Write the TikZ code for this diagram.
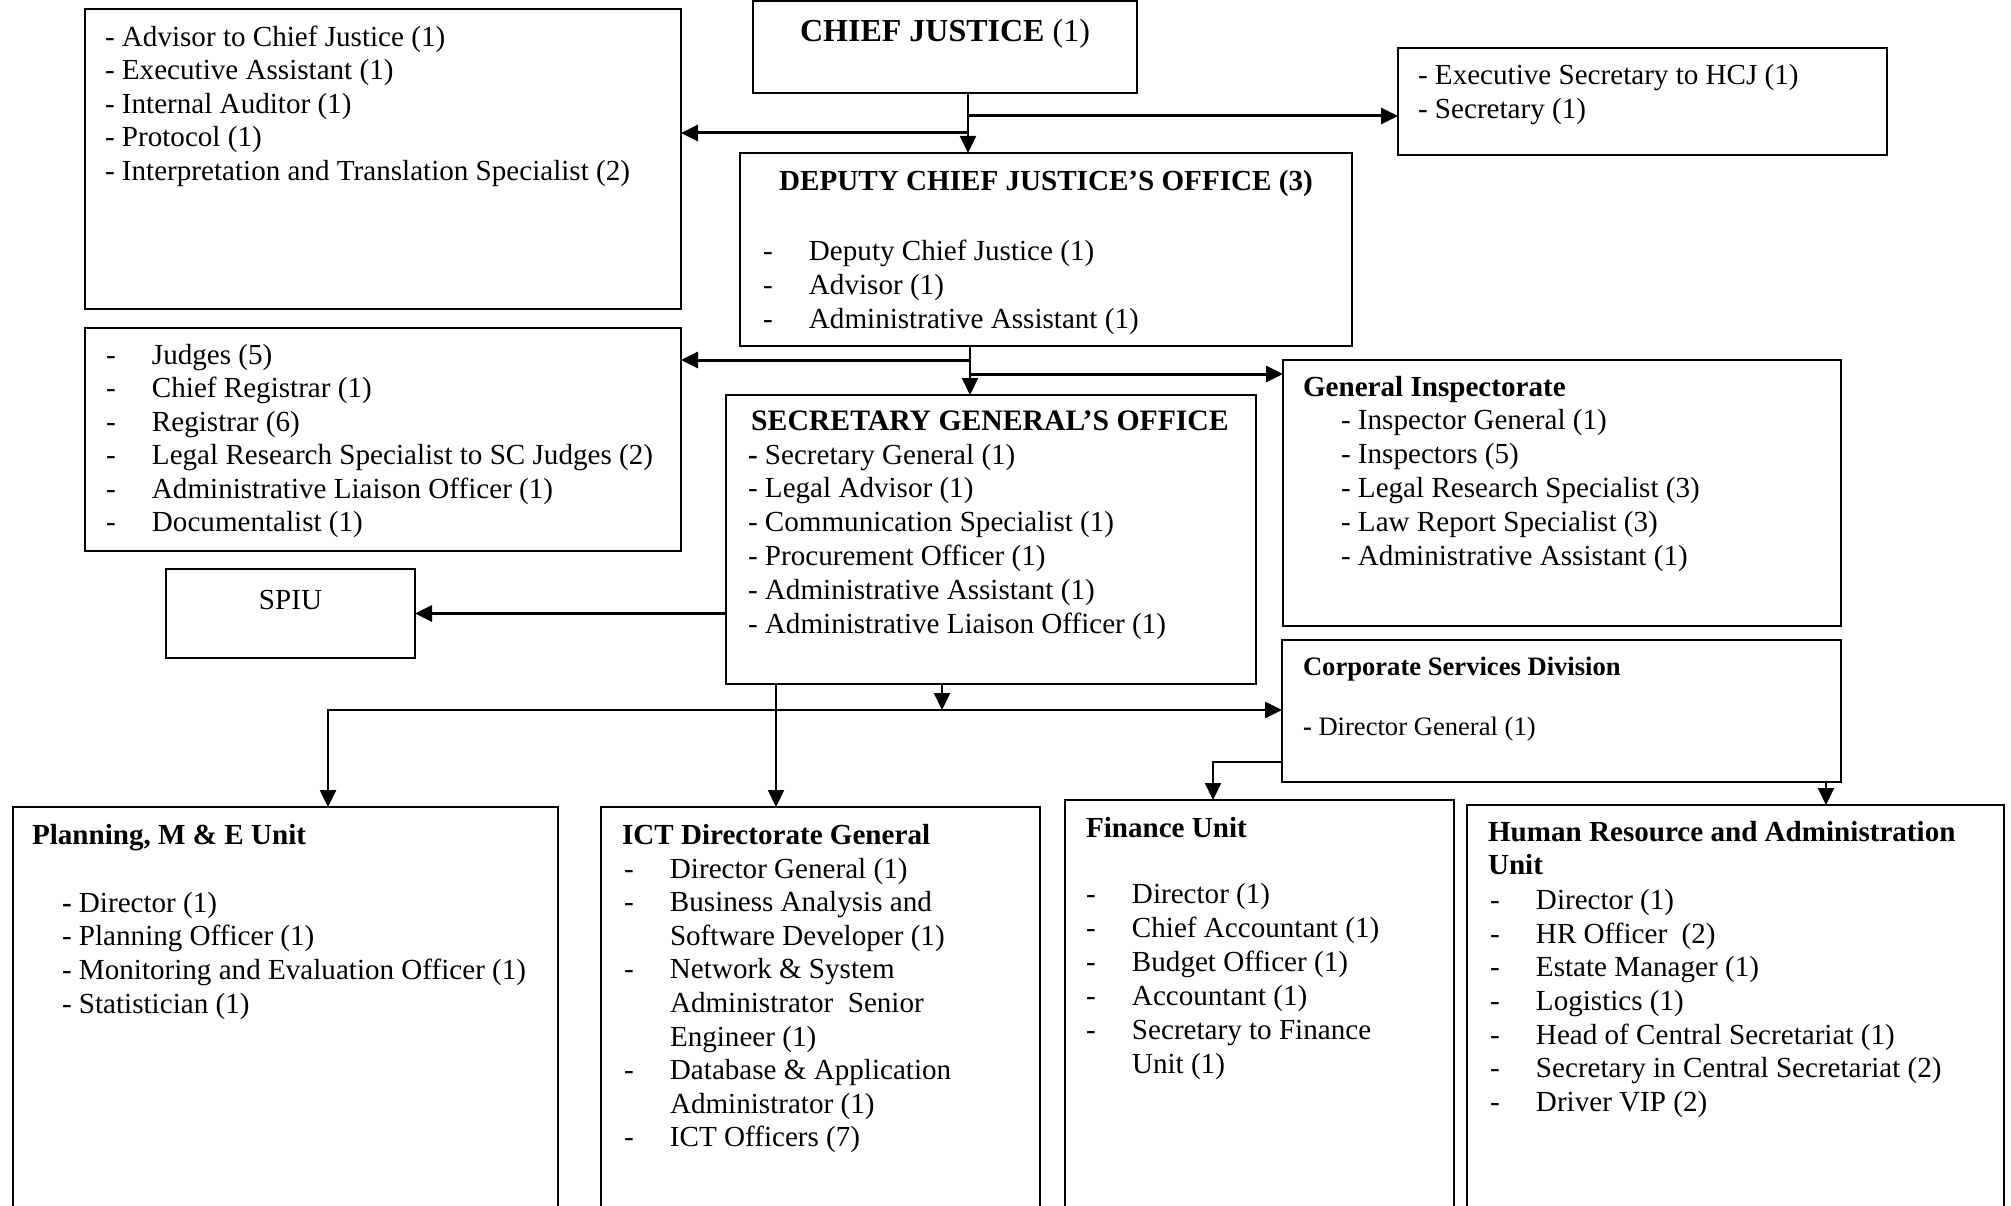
\documentclass[tikz,border=0pt]{standalone}
\usepackage{fontspec}
\setmainfont{Liberation Serif}
\usetikzlibrary{arrows.meta}
\newcommand\lns[2]{\fontsize{29.1}{#1}\selectfont\begin{tabular}[t]{@{}l@{}}#2\end{tabular}}
\newcommand\di[1]{\makebox[46pt][l]{-}#1}
\newcommand\ci[1]{\hspace*{46pt}#1}
\newcommand\bd{\textbf{-}}
\begin{document}
\begin{tikzpicture}[x=1pt,y=-1pt,
  box/.style={draw,line width=2pt,inner sep=0pt,outer sep=0pt,anchor=north west},
  tipv/.tip={Triangle[length=17pt,width=16pt]},
  vconn/.style={line width=2.2pt,-tipv},
  hconn/.style={line width=3pt,-tipv},
  conn2/.style={line width=2.6pt,tipv-tipv},
  txt/.style={anchor=base west,inner sep=0pt,outer sep=0pt},
  ttl/.style={anchor=base west,inner sep=0pt,outer sep=0pt,font=\fontsize{29.1}{33.6}\selectfont\bfseries},
  ctr/.style={anchor=base,inner sep=0pt,outer sep=0pt,font=\fontsize{29.1}{33.6}\selectfont}]
\useasboundingbox (0,0) rectangle (2011,1206);
\clip (0,0) rectangle (2011,1206);

% boxes
\node[box,minimum width=596pt,minimum height=300pt] (boxA) at (85,9) {};
\node[box,minimum width=384pt,minimum height=92pt] (cj) at (753,1) {};
\node[box,minimum width=489pt,minimum height=107pt] (exec) at (1398,48) {};
\node[box,minimum width=612pt,minimum height=193pt] (dcj) at (740,153) {};
\node[box,minimum width=596pt,minimum height=223pt] (boxB) at (85,328) {};
\node[box,minimum width=530pt,minimum height=289pt] (sg) at (726,395) {};
\node[box,minimum width=558pt,minimum height=266pt] (gi) at (1283,360) {};
\node[box,minimum width=249pt,minimum height=89pt] (spiu) at (166,569) {};
\node[box,minimum width=559pt,minimum height=142pt] (csd) at (1282,640) {};
\node[box,minimum width=545pt,minimum height=430pt] (plan) at (13,807) {};
\node[box,minimum width=439pt,minimum height=430pt] (ict) at (601,807) {};
\node[box,minimum width=389pt,minimum height=430pt] (fin) at (1065,800) {};
\node[box,minimum width=537pt,minimum height=430pt] (hr) at (1467,805) {};

% connectors
\coordinate (v1) at (968,0);
\coordinate (v2) at (970,0);
\coordinate (j1) at (968,116);
\coordinate (j2) at (968,133);
\coordinate (j3) at (970,360);
\coordinate (j4) at (970,374);
\coordinate (v3) at (942,0);
\coordinate (v4) at (776,0);
\coordinate (b1) at (328,710);
\coordinate (k1) at (1213,762);
\coordinate (v5) at (1826,0);

\draw[vconn] (cj.south -| v1) -- (dcj.north -| v1);
\draw[hconn] (j1) -- (j1 -| exec.west);
\draw[hconn] (j2) -- (j2 -| boxA.east);
\draw[vconn] (dcj.south -| v2) -- (sg.north -| v2);
\draw[hconn] (j3) -- (j3 -| boxB.east);
\draw[hconn] (j4) -- (j4 -| gi.west);
\draw[hconn] (sg.west |- spiu.east) -- (spiu.east);
\draw[vconn] (sg.south -| v3) -- (v3 |- b1);
\draw[conn2] (plan.north -| b1) -- (b1) -- (b1 -| csd.west);
\draw[vconn] (sg.south -| v4) -- (ict.north -| v4);
\draw[vconn] (csd.west |- k1) -- (k1) -- (k1 |- fin.north);
\draw[vconn] (csd.south -| v5) -- (hr.north -| v5);

% texts
\node[txt] (tA) at (105,46.4) {\lns{33.5}{- Advisor to Chief Justice (1)\\ - Executive Assistant (1)\\ - Internal Auditor (1)\\ - Protocol (1)\\ - Interpretation and Translation Specialist (2)}};
\node[ctr,font=\fontsize{32}{36}\selectfont] (tcj) at (945,42) {\textbf{CHIEF JUSTICE} (1)};
\node[txt] (tE) at (1418,85) {\lns{34}{- Executive Secretary to HCJ (1)\\ - Secretary (1)}};
\node[ctr,font=\fontsize{29.1}{33.6}\selectfont\bfseries] (tD) at (1046,191) {DEPUTY CHIEF JUSTICE’S OFFICE (3)};
\node[txt] (tD2) at (763,261) {\lns{34}{\di{Deputy Chief Justice (1)}\\ \di{Advisor (1)}\\ \di{Administrative Assistant (1)}}};
\node[txt] (tB) at (106,364) {\lns{33.6}{\di{Judges (5)}\\ \di{Chief Registrar (1)}\\ \di{Registrar (6)}\\ \di{Legal Research Specialist to SC Judges (2)}\\ \di{Administrative Liaison Officer (1)}\\ \di{Documentalist (1)}}};
\node[ctr,font=\fontsize{29.7}{33.6}\selectfont\bfseries] (tS) at (990,430) {SECRETARY GENERAL’S OFFICE};
\node[txt] (tS2) at (748,464) {\lns{33.8}{\bd\ Secretary General (1)\\ - Legal Advisor (1)\\ - Communication Specialist (1)\\ - Procurement Officer (1)\\ - Administrative Assistant (1)\\ - Administrative Liaison Officer (1)}};
\node[ttl] (tG) at (1303,396.5) {General Inspectorate};
\node[txt] (tG2) at (1341,429) {\lns{34}{- Inspector General (1)\\ - Inspectors (5)\\ - Legal Research Specialist (3)\\ - Law Report Specialist (3)\\ - Administrative Assistant (1)}};
\node[ctr] (tP) at (290.5,609) {SPIU};
\node[ttl,font=\fontsize{26.6}{30}\selectfont\bfseries] (tC) at (1303,675) {Corporate Services Division};
\node[txt,font=\fontsize{26.6}{30}\selectfont] (tC2) at (1303,735.4) {\bd\ Director General (1)};
\node[ttl] (tPl) at (32,844) {Planning, M \& E Unit};
\node[txt] (tPl2) at (62,912) {\lns{33.8}{\bd\ Director (1)\\ - Planning Officer (1)\\ - Monitoring and Evaluation Officer (1)\\ - Statistician (1)}};
\node[ttl] (tI) at (622,844) {ICT Directorate General};
\node[txt] (tI2) at (624,878) {\lns{33.6}{\di{Director General (1)}\\ \di{Business Analysis and}\\ \ci{Software Developer (1)}\\ \di{Network \& System}\\ \ci{Administrator\ \ Senior}\\ \ci{Engineer (1)}\\ \di{Database \& Application}\\ \ci{Administrator (1)}\\ \di{ICT Officers (7)}}};
\node[ttl] (tF) at (1086,837.4) {Finance Unit};
\node[txt] (tF2) at (1086,903) {\lns{34}{\di{Director (1)}\\ \di{Chief Accountant (1)}\\ \di{Budget Officer (1)}\\ \di{Accountant (1)}\\ \di{Secretary to Finance}\\ \ci{Unit (1)}}};
\node[txt,font=\bfseries] (tH) at (1488,841.6) {\lns{32.4}{Human Resource and Administration\\ Unit}};
\node[txt] (tH2) at (1490,909.6) {\lns{33.6}{\di{Director (1)}\\ \di{HR Officer\ \ (2)}\\ \di{Estate Manager (1)}\\ \di{Logistics (1)}\\ \di{Head of Central Secretariat (1)}\\ \di{Secretary in Central Secretariat (2)}\\ \di{Driver VIP (2)}}};
\end{tikzpicture}
\end{document}
